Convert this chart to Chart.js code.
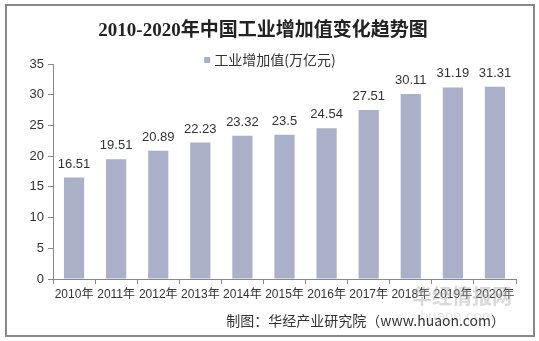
<!DOCTYPE html>
<html>
<head>
<meta charset="utf-8">
<script src="https://cdn.jsdelivr.net/npm/chart.js@4/dist/chart.umd.min.js"></script>
<style>
  html, body { margin: 0; padding: 0; background: #fff; }
  #wrap { width: 539px; height: 341px; position: relative; }
</style>
</head>
<body>
<div id="wrap"><canvas id="chart" width="539" height="341"></canvas></div>
<script>
const years = ['2010年', '2011年', '2012年', '2013年', '2014年', '2015年', '2016年', '2017年', '2018年', '2019年', '2020年'];
const valueAdded = [16.51, 19.51, 20.89, 22.23, 23.32, 23.5, 24.54, 27.51, 30.11, 31.19, 31.31];
const yTicks = [0, 5, 10, 15, 20, 25, 30, 35];

const chartTitle = '2010-2020年中国工业增加值变化趋势图';
const seriesName = '工业增加值(万亿元)';
const sourceNote = '制图：华经产业研究院（www.huaon.com）';

const barColor = '#a9b0c8';
const sansFont = 'Arial, "Liberation Sans", "Noto Sans CJK SC", sans-serif';

// border, title, legend, watermark, source line and value labels
const decorations = {
  id: 'decorations',
  beforeDraw(chart) {
    const ctx = chart.ctx;
    ctx.save();
    ctx.fillStyle = '#fff';
    ctx.fillRect(0, 0, chart.width, chart.height);
    ctx.restore();
  },
  afterDraw(chart) {
    const ctx = chart.ctx;
    ctx.save();
    ctx.strokeStyle = '#888';
    ctx.lineWidth = 2;
    ctx.strokeRect(6, 5, 528, 331);

    // title
    ctx.fillStyle = '#222';
    ctx.font = 'bold 19px "Liberation Serif", "Noto Sans CJK SC", serif';
    ctx.textAlign = 'center';
    ctx.textBaseline = 'middle';
    ctx.fillText(chartTitle, 263, 31);

    // legend
    ctx.font = '14px "Noto Sans CJK SC", ' + sansFont;
    ctx.textAlign = 'left';
    const tw = ctx.measureText(seriesName).width;
    const lx = 270 - (tw + 10) / 2;
    ctx.fillStyle = barColor;
    ctx.fillRect(lx, 57, 6, 6);
    ctx.fillStyle = '#333';
    ctx.fillText(seriesName, lx + 10, 60);

    // value labels
    const meta = chart.getDatasetMeta(0);
    ctx.fillStyle = '#333';
    ctx.font = '13px ' + sansFont;
    ctx.textAlign = 'center';
    ctx.textBaseline = 'bottom';
    meta.data.forEach((bar, i) => {
      ctx.fillText(String(valueAdded[i]), bar.x, bar.y - 7);
    });

    // watermark
    ctx.fillStyle = 'rgba(170,170,170,0.45)';
    ctx.font = 'bold 20px "Noto Sans CJK SC", sans-serif';
    ctx.textAlign = 'left';
    ctx.textBaseline = 'middle';
    ctx.fillText('华经情报网', 412, 296);
    ctx.fillStyle = 'rgba(200,200,200,0.45)';
    ctx.font = '15px ' + sansFont;
    ctx.fillText('huaon.com', 420, 317);

    // source
    ctx.fillStyle = '#333';
    ctx.font = '14px "Noto Sans CJK SC", ' + sansFont;
    ctx.textAlign = 'right';
    ctx.fillText(sourceNote, 505, 321);
    ctx.restore();
  }
};

new Chart(document.getElementById('chart').getContext('2d'), {
  type: 'bar',
  data: {
    labels: years,
    datasets: [{
      label: seriesName,
      data: valueAdded,
      backgroundColor: barColor,
      categoryPercentage: 1,
      barPercentage: 0.48
    }]
  },
  options: {
    responsive: false,
    animation: false,
    layout: { padding: { top: 64, left: 5, right: 23, bottom: 40 } },
    plugins: {
      title: { display: false },
      legend: { display: false },
      tooltip: { enabled: false }
    },
    scales: {
      x: {
        grid: { display: true, drawOnChartArea: false, offset: true, tickLength: 5, color: '#888' },
        border: { color: '#888' },
        ticks: { color: '#333', font: { family: sansFont, size: 12 }, maxRotation: 0, autoSkip: false, padding: 3 },
        afterFit(scale) { scale.height = 22; }
      },
      y: {
        min: 0,
        max: 35,
        afterBuildTicks(scale) { scale.ticks = yTicks.map(v => ({ value: v })); },
        grid: { display: true, drawOnChartArea: false, tickLength: 5, color: '#888' },
        border: { color: '#888' },
        ticks: { color: '#333', font: { family: sansFont, size: 13 }, padding: 4 },
        afterFit(scale) { scale.width = 48; }
      }
    }
  },
  plugins: [decorations]
});
</script>
</body>
</html>
